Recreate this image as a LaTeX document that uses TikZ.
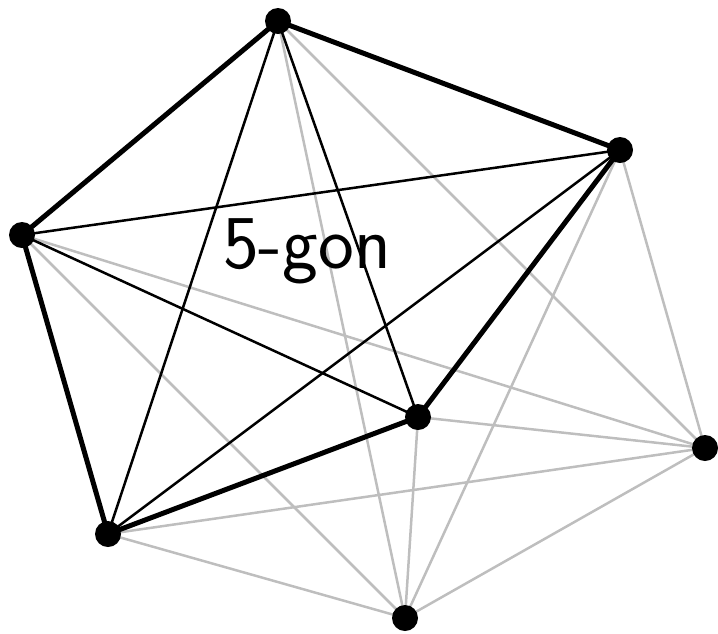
\documentclass[tikz,border=0pt]{standalone}
\begin{document}
\begin{tikzpicture}[x=1pt,y=-1pt,
  dot/.style={circle,fill=black,inner sep=0pt,minimum size=26pt},
  thickedge/.style={line width=5pt},
  thinedge/.style={line width=2.5pt},
  grayedge/.style={line width=2.5pt,draw={rgb,255:red,190;green,190;blue,190}}]
\useasboundingbox (0,0) rectangle (718,633);
\coordinate (A) at (278,21);
\coordinate (B) at (620,150);
\coordinate (C) at (22,235);
\coordinate (D) at (418,417);
\coordinate (E) at (705,448);
\coordinate (F) at (108,534);
\coordinate (G) at (405,618);
% gray edges
\foreach \p in {A,B,C,D,F,G} \draw[grayedge] (E) -- (\p);
\foreach \p in {A,B,C,D,F} \draw[grayedge] (G) -- (\p);
% thin diagonals
\draw[thinedge] (A) -- (D);
\draw[thinedge] (A) -- (F);
\draw[thinedge] (C) -- (B);
\draw[thinedge] (C) -- (D);
\draw[thinedge] (F) -- (B);
% thick 5-gon
\draw[thickedge,line join=round] (A) -- (B) -- (D) -- (F) -- (C) -- cycle;
\foreach \p in {A,B,C,D,E,F,G} \node[dot] (n\p) at (\p) {};
\node[font=\sffamily\fontsize{76}{80}\selectfont,inner sep=0pt] (lbl) at (307,251) {5-gon};
\end{tikzpicture}
\end{document}
